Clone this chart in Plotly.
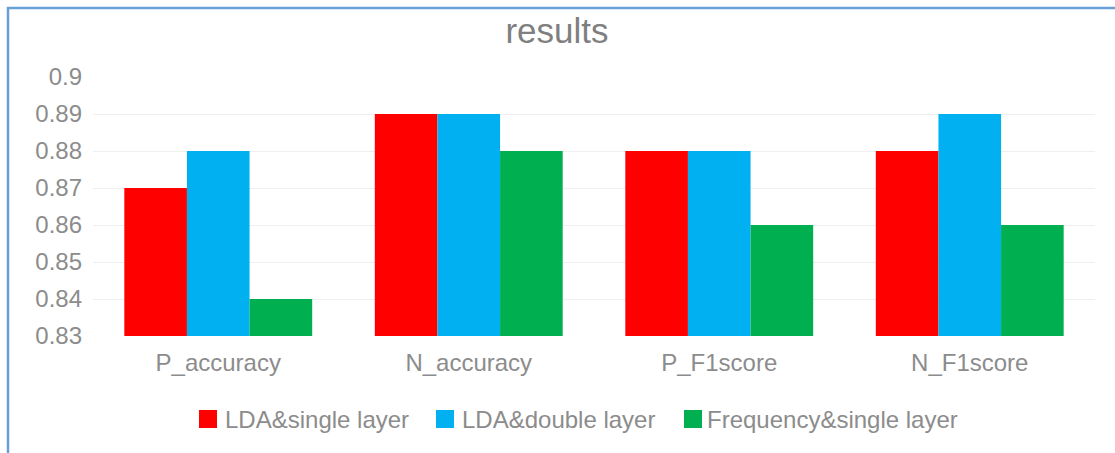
import plotly.graph_objects as go

# Metric categories and scores per model configuration
categories = ["P_accuracy", "N_accuracy", "P_F1score", "N_F1score"]
lda_single = [0.87, 0.89, 0.88, 0.88]
lda_double = [0.88, 0.89, 0.88, 0.89]
freq_single = [0.84, 0.88, 0.86, 0.86]

series_names = ["LDA&single layer", "LDA&double layer", "Frequency&single layer"]
series_colors = ["#FF0000", "#00B0F0", "#00B050"]
y_ticks = [0.83, 0.84, 0.85, 0.86, 0.87, 0.88, 0.89, 0.9]

W, H = 1115, 453
ML, MR, MT, MB = 93, 20, 77, 117
FONT = "Liberation Sans, Arial, sans-serif"
GRAY = "#8c8c8c"

fig = go.Figure()
for name, vals, col in zip(series_names, [lda_single, lda_double, freq_single], series_colors):
    fig.add_trace(go.Bar(
        x=categories, y=vals, name=name,
        marker=dict(color=col, line=dict(width=0)),
        base=0, showlegend=False,
    ))

# helpers to place decorations in pixel terms, expressed in paper units
pw = W - ML - MR
ph = H - MT - MB
def px_x(v):
    return (v - ML) / pw
def px_y(v):
    return (H - MB - v) / ph

frame = "#6A9FD8"
shapes = [
    dict(type="line", xref="paper", yref="paper",
         x0=px_x(8), x1=px_x(8), y0=px_y(7), y1=px_y(H + 5),
         line=dict(color=frame, width=2.5)),
    dict(type="line", xref="paper", yref="paper",
         x0=px_x(7), x1=px_x(W + 5), y0=px_y(8), y1=px_y(8),
         line=dict(color=frame, width=2.5)),
]
annotations = []

# legend row at the bottom: swatch left edge and label left edge per series
swatch_left = [199, 436, 684]
label_left = [223, 460, 705]
SW = 18
LEG_Y = 419
for name, col, sx, tx in zip(series_names, series_colors, swatch_left, label_left):
    shapes.append(dict(type="rect", xref="paper", yref="paper",
                       x0=px_x(sx), x1=px_x(sx + SW),
                       y0=px_y(LEG_Y - SW / 2), y1=px_y(LEG_Y + SW / 2),
                       fillcolor=col, line=dict(width=0)))
    annotations.append(dict(text=name, xref="paper", yref="paper",
                            x=px_x(tx), y=px_y(LEG_Y), xanchor="left",
                            yanchor="middle", showarrow=False,
                            font=dict(family=FONT, size=24, color=GRAY)))

fig.update_layout(
    width=W, height=H,
    margin=dict(l=ML, r=MR, t=MT, b=MB),
    paper_bgcolor="white", plot_bgcolor="white",
    barmode="group", bargap=0.25, bargroupgap=0,
    font=dict(family=FONT, color=GRAY, size=24),
    title=dict(text="results", x=557 / W, xanchor="center",
               y=1 - 31 / H, yanchor="middle", yref="container",
               font=dict(family=FONT, size=35, color="#7f7f7f")),
    shapes=shapes,
    annotations=annotations,
    showlegend=False,
)
fig.update_xaxes(showgrid=False, showline=False, ticks="", zeroline=False,
                 ticklabelstandoff=10, tickfont=dict(size=24, color=GRAY))
fig.update_yaxes(range=[0.83, 0.9], tickvals=y_ticks,
                 ticktext=[f"{v:g}" for v in y_ticks],
                 showgrid=True, gridcolor="#EFEFEF", gridwidth=1,
                 zeroline=False, showline=False, ticks="",
                 ticklabelstandoff=10, tickfont=dict(size=24, color=GRAY))

fig.write_html("out.html")
